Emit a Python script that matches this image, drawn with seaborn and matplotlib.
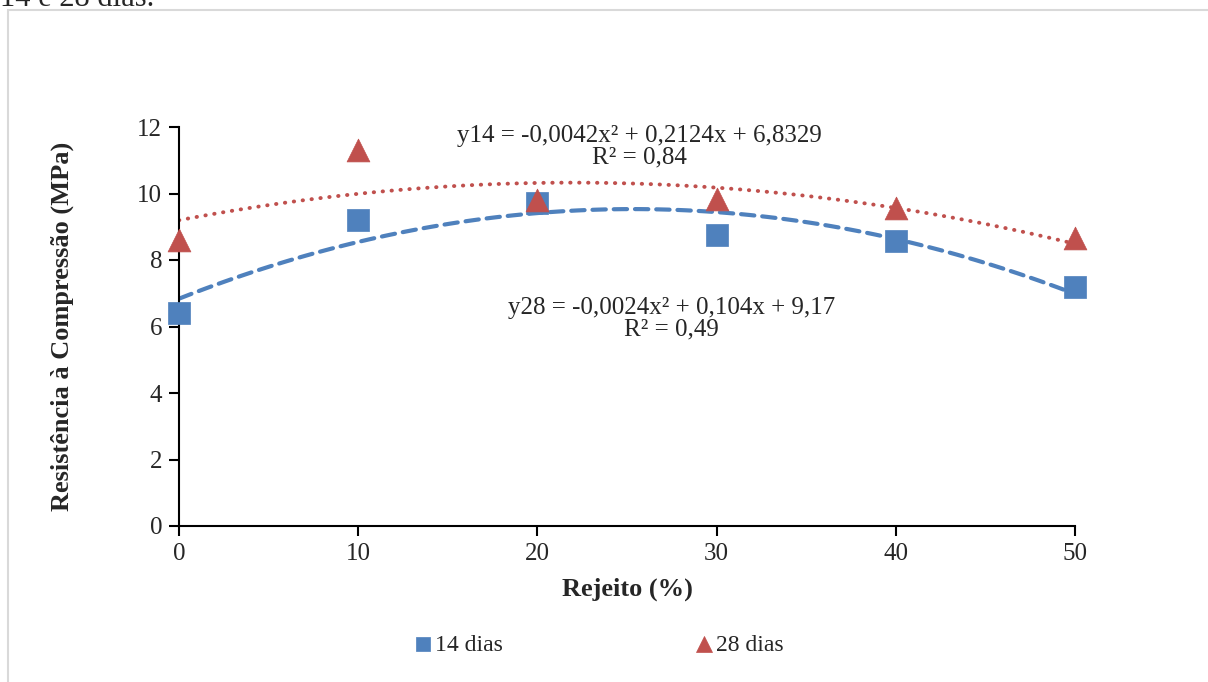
import numpy as np
import seaborn as sns
import matplotlib.pyplot as plt
import pandas as pd
from matplotlib.patches import Rectangle

# dados
rejeito = [0, 10, 20, 30, 40, 50]
dias14 = [6.42, 9.20, 9.72, 8.74, 8.56, 7.20]
dias28 = [8.60, 11.30, 9.80, 9.83, 9.55, 8.65]
eq14 = "y14 = -0,0042x² + 0,2124x + 6,8329\nR² = 0,84"
eq28 = "y28 = -0,0024x² + 0,104x + 9,17\nR² = 0,49"

df = pd.DataFrame({"rejeito": rejeito, "14 dias": dias14, "28 dias": dias28})

sns.set_style("white")
plt.rcParams['font.family'] = ['Liberation Serif', 'DejaVu Serif']

blue = "#4F81BD"
red = "#C0504D"

fig = plt.figure(figsize=(12.08, 6.82), dpi=100)
ax = fig.add_axes([179/1208, 1-526/682, (1075-179)/1208, (526-127)/682])

# linhas de tendencia polinomial (ordem 2)
sns.regplot(data=df, x="rejeito", y="14 dias", order=2, ci=None, scatter=False,
            truncate=True, ax=ax,
            line_kws=dict(color=blue, lw=3, linestyle=(0, (3.2, 1.9)), dash_capstyle="round"))
sns.regplot(data=df, x="rejeito", y="28 dias", order=2, ci=None, scatter=False,
            truncate=True, ax=ax,
            line_kws=dict(color=red, lw=2.8, linestyle=(0, (0.1, 2.2)), dash_capstyle="round"))

sns.scatterplot(data=df, x="rejeito", y="14 dias", marker="s", s=230, color=blue,
                edgecolor=blue, linewidth=0.5, ax=ax, zorder=5, clip_on=False, label="14 dias")
sns.scatterplot(data=df, x="rejeito", y="28 dias", marker="^", s=270, color=red,
                edgecolor=red, linewidth=0.5, ax=ax, zorder=5, clip_on=False, label="28 dias")

ax.set_xlim(0, 50)
ax.set_ylim(0, 12)
ax.set_xticks(rejeito)
ax.set_yticks(range(0, 13, 2))
for s in ["top", "right"]:
    ax.spines[s].set_visible(False)
for s in ["left", "bottom"]:
    ax.spines[s].set_color("black")
    ax.spines[s].set_linewidth(1.5)
ax.tick_params(axis="both", direction="out", length=7, width=1.5, color="black",
               labelsize=18, pad=5, left=True, bottom=True)

ax.set_xlabel("Rejeito (%)", fontsize=19, fontweight="bold")
ax.set_ylabel("Resistência à Compressão (MPa)", fontsize=19, fontweight="bold")
ax.xaxis.set_label_coords(0.5, -0.13)
ax.yaxis.set_label_coords(-0.117, 0.5)

ax.text(25.7, 11.41, eq14, ha="center", va="center", fontsize=18, linespacing=0.97)
ax.text(27.5, 6.24, eq28, ha="center", va="center", fontsize=18, linespacing=0.97)

ax.legend(loc="center", bbox_to_anchor=(0.467, -0.298), ncol=2, frameon=False,
          fontsize=17, columnspacing=8.0, handletextpad=0.0, markerscale=0.7,
          handlelength=1.0)

# borda da area do grafico e texto cortado acima
fig.patches.append(Rectangle((8/1208, -0.1), 1.2, 1.1 - 10/682, transform=fig.transFigure,
                             fill=False, edgecolor="#D9D9D9", lw=1.5))
fig.text(0.0, 1 - 6/682, "14 e 28 dias.", fontsize=22, ha="left", va="baseline")

plt.savefig("out.png", dpi=100)
